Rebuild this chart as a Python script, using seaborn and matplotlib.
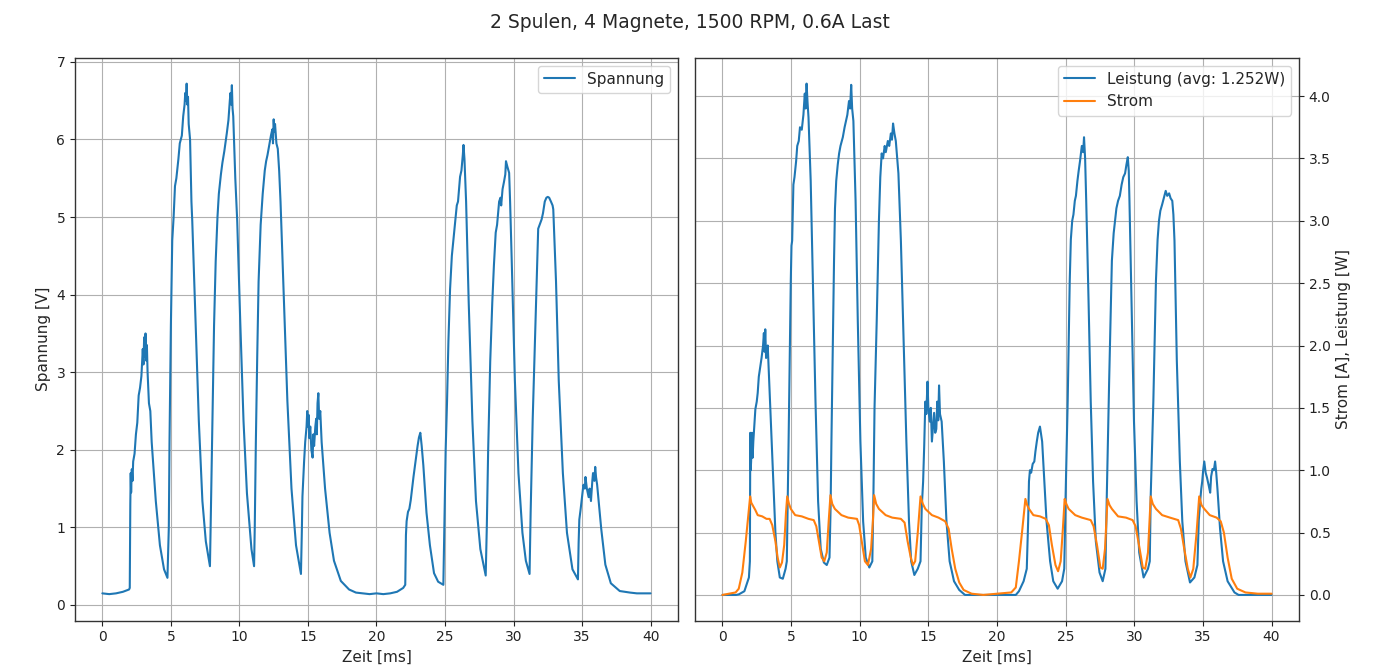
import matplotlib
matplotlib.use("Agg")
import matplotlib.pyplot as plt
import seaborn as sns

# ---------------- data ----------------
spannung_t = [0, 0.5, 1.0, 1.5, 1.95, 2.0, 2.04, 2.07, 2.1, 2.15, 2.2, 2.25, 2.35, 2.45, 2.55, 2.65, 2.75,
              2.85, 2.95, 3.0, 3.05, 3.1, 3.15, 3.2, 3.25, 3.3, 3.4, 3.5, 3.6, 3.7, 3.9, 4.2, 4.5, 4.75,
              4.85, 4.9, 5.0, 5.1, 5.2, 5.3, 5.4, 5.55, 5.65, 5.8, 5.9, 6.0, 6.05, 6.1, 6.15, 6.2, 6.25, 6.3,
              6.4, 6.5, 6.56, 6.8, 7.04, 7.3, 7.55, 7.85,
              7.9, 8.05, 8.15, 8.27, 8.4, 8.5, 8.65, 8.76, 8.9, 9.08, 9.2, 9.3, 9.35, 9.4, 9.45, 9.5, 9.55,
              9.6, 9.7, 9.84, 10.06, 10.3, 10.55, 10.88, 11.07,
              11.12, 11.2, 11.3, 11.4, 11.55, 11.7, 11.85, 11.95, 12.05, 12.2, 12.3, 12.4, 12.45, 12.5, 12.55,
              12.6, 12.7, 12.8, 12.9, 13.0, 13.25, 13.5, 13.8, 14.13, 14.49,
              14.55, 14.6, 14.65, 14.72, 14.8, 14.9, 14.95, 15.0, 15.05, 15.1, 15.17, 15.25, 15.34, 15.4, 15.45,
              15.54, 15.6, 15.65, 15.7, 15.76, 15.82, 15.9, 16.0, 16.25, 16.58, 16.9, 17.4, 18.0, 18.5, 19.0,
              19.5, 20.0, 20.5, 21.0, 21.5, 21.95, 22.1,
              22.15, 22.2, 22.3, 22.4, 22.5, 22.6, 22.7, 22.86, 23.0, 23.1, 23.2, 23.3, 23.42, 23.55, 23.65,
              23.9, 24.2, 24.5, 24.88,
              24.95, 25.05, 25.15, 25.25, 25.37, 25.5, 25.63, 25.75, 25.86, 25.95, 26.1, 26.2, 26.3, 26.35,
              26.42, 26.5, 26.54, 26.73, 27.0, 27.26, 27.58, 27.97,
              28.05, 28.15, 28.3, 28.45, 28.57, 28.7, 28.8, 28.95, 29.05, 29.1, 29.2, 29.3, 29.4, 29.45, 29.55,
              29.68, 29.75, 29.87, 30.1, 30.36, 30.65, 30.9, 31.17,
              31.25, 31.4, 31.56, 31.7, 31.8, 31.95, 32.05, 32.15, 32.28, 32.4, 32.5, 32.6, 32.73, 32.85, 32.9,
              33.1, 33.3, 33.6, 33.9, 34.3, 34.7,
              34.75, 34.8, 34.9, 35.0, 35.1, 35.2, 35.25, 35.35, 35.48, 35.55, 35.65, 35.75, 35.8, 35.9, 35.96,
              36.02, 36.1, 36.4, 36.7, 37.1, 37.75, 38.5, 39.0, 39.5, 40.0]
spannung_v = [0.15, 0.14, 0.15, 0.17, 0.2, 0.22, 1.3, 1.7, 1.45, 1.75, 1.6, 1.85, 1.95, 2.2, 2.35, 2.7, 2.8,
              2.95, 3.3, 3.1, 3.45, 3.2, 3.5, 3.15, 3.35, 3.0, 2.6, 2.5, 2.1, 1.85, 1.34, 0.77, 0.46, 0.35,
              1.0, 2.1, 3.6, 4.7, 5.0, 5.4, 5.5, 5.75, 5.95, 6.05, 6.3, 6.45, 6.6, 6.5, 6.72, 6.45, 6.55, 6.2,
              6.0, 5.2, 4.95, 3.66, 2.37, 1.34, 0.82, 0.5,
              1.0, 2.6, 3.6, 4.43, 5.0, 5.3, 5.55, 5.7, 5.85, 6.08, 6.25, 6.5, 6.6, 6.45, 6.7, 6.4, 6.3,
              6.03, 5.5, 4.95, 3.66, 2.37, 1.44, 0.72, 0.5,
              1.0, 2.1, 3.2, 4.17, 4.9, 5.3, 5.6, 5.72, 5.8, 5.95, 6.05, 6.13, 5.95, 6.26, 6.1,
              6.2, 5.95, 5.88, 5.6, 5.2, 3.9, 2.63, 1.5, 0.77, 0.4,
              0.9, 1.4, 1.6, 1.85, 2.1, 2.3, 2.5, 2.3, 2.45, 2.15, 2.3, 2.0, 1.9, 2.2, 2.05,
              2.3, 2.4, 2.2, 2.6, 2.73, 2.4, 2.5, 2.1, 1.5, 0.93, 0.57, 0.31, 0.2, 0.16, 0.15,
              0.14, 0.15, 0.14, 0.15, 0.17, 0.22, 0.26,
              0.9, 1.08, 1.2, 1.24, 1.35, 1.5, 1.65, 1.86, 2.05, 2.16, 2.22, 2.05, 1.8, 1.45, 1.19,
              0.77, 0.41, 0.3, 0.26,
              1.0, 2.0, 2.63, 3.4, 4.07, 4.5, 4.74, 4.95, 5.15, 5.2, 5.52, 5.6, 5.8, 5.93,
              5.75, 5.4, 5.2, 3.9, 2.37, 1.34, 0.72, 0.38,
              1.0, 2.0, 3.14, 3.9, 4.38, 4.8, 4.9, 5.2, 5.25, 5.15, 5.36, 5.45, 5.55, 5.72, 5.65,
              5.57, 5.2, 4.43, 2.89, 1.7, 0.93, 0.57, 0.4,
              1.2, 2.4, 3.4, 4.3, 4.85, 4.92, 4.97, 5.05, 5.2, 5.25, 5.26, 5.25, 5.2, 5.15, 5.1,
              4.17, 2.89, 1.7, 0.93, 0.46, 0.33,
              0.8, 1.1, 1.24, 1.4, 1.55, 1.5, 1.65, 1.5, 1.39, 1.5, 1.34, 1.6, 1.7, 1.6, 1.78,
              1.65, 1.55, 0.98, 0.52, 0.28, 0.18, 0.16, 0.15, 0.15, 0.15]

leistung_t = [0, 0.5, 1.0, 1.2, 1.6, 1.93, 2.0, 2.03, 2.06, 2.09, 2.15, 2.2, 2.25, 2.35, 2.4, 2.5, 2.57, 2.65,
              2.73, 2.85, 2.96, 3.02, 3.07, 3.12, 3.18, 3.25, 3.3, 3.37, 3.45, 3.53, 3.7, 3.86, 4.0, 4.18,
              4.4, 4.6, 4.69,
              4.75, 4.82, 4.98, 5.03, 5.08, 5.17, 5.25, 5.37, 5.45, 5.56, 5.65, 5.78, 5.9, 6.0, 6.06, 6.13,
              6.2, 6.27, 6.43, 6.59, 6.78, 6.97, 7.16, 7.39, 7.6, 7.8,
              7.88, 7.94, 8.05, 8.13, 8.2, 8.29, 8.4, 8.5, 8.6, 8.77, 8.9, 9.0, 9.1, 9.22, 9.3, 9.38, 9.45,
              9.54, 9.7, 9.86, 10.05, 10.25, 10.44, 10.7, 10.92,
              11.0, 11.08, 11.24, 11.4, 11.5, 11.6, 11.7, 11.82, 11.9, 12.05, 12.15, 12.27, 12.35, 12.43,
              12.53, 12.63, 12.82, 13.0, 13.2, 13.4, 13.59, 13.75, 13.98, 14.23, 14.43,
              14.52, 14.62, 14.7, 14.78, 14.85, 14.94, 15.0, 15.1, 15.18, 15.26, 15.34, 15.42, 15.5, 15.58,
              15.65, 15.72, 15.78, 15.85, 15.97, 16.13, 16.32, 16.55, 16.87, 17.25, 17.67, 18.5, 19.5,
              20.5, 21.37, 21.6, 21.94, 22.17,
              22.27, 22.33, 22.4, 22.49, 22.6, 22.72, 22.8, 22.9, 23.0, 23.13, 23.2, 23.29, 23.45, 23.61,
              23.87, 24.1, 24.42, 24.74, 24.9,
              25.0, 25.15, 25.3, 25.38, 25.48, 25.57, 25.67, 25.75, 25.86, 25.95, 26.05, 26.18, 26.28,
              26.34, 26.42, 26.5, 26.67, 26.83, 27.0, 27.2, 27.47, 27.7, 27.9,
              28.0, 28.17, 28.37, 28.5, 28.6, 28.7, 28.82, 28.95, 29.08, 29.2, 29.33, 29.43, 29.53, 29.6,
              29.65, 29.8, 29.98, 30.17, 30.36, 30.68, 31.0, 31.13,
              31.2, 31.39, 31.58, 31.7, 31.8, 31.9, 32.03, 32.15, 32.29, 32.4, 32.54, 32.65, 32.77, 32.85,
              32.93, 33.1, 33.32, 33.5, 33.73, 34.06, 34.38, 34.6,
              34.7, 34.8, 34.88, 34.95, 35.02, 35.1, 35.2, 35.3, 35.42, 35.53, 35.6, 35.7, 35.8, 35.89,
              35.97, 36.06, 36.25, 36.47, 36.8, 37.3, 37.6, 38.5, 39.5, 40.0]
leistung_w = [0, 0, 0, 0.005, 0.03, 0.14, 0.27, 1.3, 1.0, 1.07, 1.3, 1.1, 1.23, 1.4, 1.49, 1.55, 1.62, 1.75,
              1.81, 1.9, 2.0, 2.1, 1.95, 2.13, 1.9, 1.94, 2.0, 1.81, 1.6, 1.39, 0.91, 0.5, 0.27, 0.14,
              0.13, 0.21, 0.27,
              0.7, 1.23, 2.52, 2.8, 2.84, 3.29, 3.35, 3.48, 3.6, 3.64, 3.75, 3.73, 3.85, 4.02, 3.9, 4.1,
              3.95, 3.83, 3.32, 2.52, 1.55, 0.75, 0.37, 0.26, 0.24, 0.3,
              0.7, 1.23, 2.1, 2.68, 3.1, 3.32, 3.45, 3.54, 3.6, 3.67, 3.75, 3.8, 3.85, 3.96, 3.9, 4.09, 3.9,
              3.8, 3.16, 2.2, 1.23, 0.59, 0.3, 0.22, 0.27,
              0.8, 1.5, 2.2, 3.0, 3.35, 3.54, 3.5, 3.6, 3.55, 3.64, 3.6, 3.7, 3.65, 3.78,
              3.7, 3.64, 3.38, 2.84, 2.04, 1.23, 0.59, 0.27, 0.16, 0.21, 0.27,
              0.7, 0.91, 1.2, 1.55, 1.45, 1.71, 1.5, 1.39, 1.5, 1.23, 1.35, 1.46, 1.3, 1.33,
              1.55, 1.4, 1.68, 1.45, 1.39, 1.07, 0.59, 0.27, 0.11, 0.04, 0.0, 0, 0,
              0, 0.0, 0.03, 0.11, 0.21,
              0.59, 0.91, 1.0, 0.98, 1.05, 1.07, 1.15, 1.23, 1.3, 1.35, 1.3, 1.23, 0.91, 0.59,
              0.27, 0.11, 0.05, 0.11, 0.21,
              0.8, 1.55, 2.52, 2.85, 3.0, 3.05, 3.16, 3.2, 3.32, 3.4, 3.48, 3.6, 3.55,
              3.67, 3.5, 3.16, 2.36, 1.55, 0.91, 0.43, 0.18, 0.11, 0.21,
              0.8, 1.71, 2.68, 2.9, 3.0, 3.1, 3.16, 3.2, 3.29, 3.35, 3.38, 3.45, 3.51, 3.4,
              3.16, 2.36, 1.39, 0.75, 0.34, 0.14, 0.21, 0.27,
              0.8, 1.55, 2.52, 2.85, 3.0, 3.08, 3.13, 3.18, 3.24, 3.2, 3.22, 3.18, 3.16, 3.05,
              2.84, 1.88, 1.07, 0.59, 0.27, 0.1, 0.14, 0.24,
              0.6, 0.75, 0.85, 0.91, 1.0, 1.07, 0.98, 0.94, 0.88, 0.82, 0.95, 1.01, 1.0, 1.07,
              0.98, 0.85, 0.53, 0.27, 0.11, 0.02, 0.0, 0, 0, 0]

strom_t = [0, 0.5, 0.96, 1.19, 1.45, 1.7, 1.9, 2.02, 2.1, 2.25, 2.4, 2.57, 2.9, 3.21, 3.44, 3.63, 3.86, 4.02,
           4.18, 4.34, 4.5, 4.63, 4.72, 4.85, 4.98, 5.3, 5.78, 6.27, 6.65, 6.84, 7.07, 7.23, 7.42, 7.6, 7.74,
           7.87, 8.0, 8.19, 8.67, 9.16, 9.8, 9.96, 10.19, 10.38, 10.6, 10.83, 10.96, 11.05, 11.2, 11.4,
           11.89, 12.37, 13.0, 13.27, 13.49, 13.72, 13.88, 14.04, 14.23, 14.43, 14.6, 14.78, 15.26, 15.74,
           16.23, 16.48, 16.7, 16.96, 17.25, 17.57, 18.15, 19.0, 20.0, 21.04, 21.37, 21.6, 21.85, 22.07,
           22.2, 22.33, 22.65, 23.13, 23.55, 23.78, 24.0, 24.26, 24.45, 24.64, 24.8, 24.93, 25.05, 25.22,
           25.7, 26.18, 26.83, 27.04, 27.3, 27.53, 27.7, 27.87, 28.05, 28.2, 28.37, 28.82, 29.4, 29.88,
           30.1, 30.36, 30.62, 30.8, 31.0, 31.2, 31.35, 31.58, 32.03, 32.6, 33.2, 33.4, 33.64, 33.9, 34.09,
           34.3, 34.54, 34.73, 34.9, 35.1, 35.5, 36.0, 36.3, 36.53, 36.8, 37.1, 37.5, 38.1, 39.0, 40.0]
strom_a = [0, 0.01, 0.02, 0.05, 0.18, 0.43, 0.66, 0.79, 0.74, 0.71, 0.68, 0.64, 0.63, 0.61, 0.61, 0.56, 0.43,
           0.3, 0.22, 0.26, 0.4, 0.66, 0.79, 0.73, 0.69, 0.64, 0.63, 0.61, 0.6, 0.55, 0.4, 0.3, 0.27, 0.34,
           0.59, 0.8, 0.73, 0.69, 0.64, 0.62, 0.61, 0.56, 0.4, 0.27, 0.24, 0.37, 0.59, 0.8, 0.73, 0.69,
           0.64, 0.62, 0.61, 0.58, 0.43, 0.3, 0.24, 0.27, 0.5, 0.79, 0.73, 0.69, 0.64, 0.62,
           0.59, 0.53, 0.37, 0.21, 0.1, 0.04, 0.01, 0.0, 0.01, 0.02, 0.06, 0.27, 0.53, 0.77,
           0.72, 0.69, 0.64, 0.63, 0.61, 0.56, 0.4, 0.24, 0.19, 0.27, 0.53, 0.77, 0.73, 0.69,
           0.64, 0.62, 0.6, 0.55, 0.39, 0.22, 0.21, 0.37, 0.77, 0.72, 0.69, 0.63, 0.62, 0.6,
           0.55, 0.39, 0.22, 0.21, 0.34, 0.79, 0.73, 0.69, 0.64, 0.62, 0.6, 0.53, 0.37, 0.21, 0.14,
           0.21, 0.5, 0.79, 0.72, 0.69, 0.64, 0.62, 0.59, 0.5, 0.3, 0.13, 0.05, 0.02, 0.01, 0.01]

title = "2 Spulen, 4 Magnete, 1500 RPM, 0.6A Last"
avg_leistung = 1.252
x_ticks = [0, 5, 10, 15, 20, 25, 30, 35, 40]

# ---------------- plotting ----------------
sns.set_style("ticks")
plt.rcParams["font.family"] = ["DejaVu Sans"]
plt.rcParams["axes.edgecolor"] = "black"
plt.rcParams["xtick.color"] = "#222222"
plt.rcParams["ytick.color"] = "#222222"

blue = "#1f77b4"
orange = "#ff7f0e"

fig = plt.figure(figsize=(13.8, 6.67), dpi=100)
ax1 = fig.add_axes([0.0543, 0.0697, 0.4370, 0.8433])
ax2 = fig.add_axes([0.5036, 0.0697, 0.4377, 0.8433])

sns.lineplot(x=spannung_t, y=spannung_v, ax=ax1, color=blue, linewidth=1.5,
             sort=False, estimator=None, label="Spannung")

sns.lineplot(x=leistung_t, y=leistung_w, ax=ax2, color=blue, linewidth=1.5,
             sort=False, estimator=None, label=f"Leistung (avg: {avg_leistung:.3f}W)")
sns.lineplot(x=strom_t, y=strom_a, ax=ax2, color=orange, linewidth=1.5,
             sort=False, estimator=None, label="Strom")

for ax in (ax1, ax2):
    ax.set_xticks(x_ticks)
    ax.set_xlim(-2, 42)
    ax.grid(True, color="#b0b0b0", linewidth=0.8)
    ax.set_axisbelow(True)
    ax.set_xlabel("Zeit [ms]", fontsize=11)
    ax.tick_params(labelsize=10, direction="out", length=3.5)
    for s in ax.spines.values():
        s.set_linewidth(1.0)
        s.set_color("#333333")
    ax.legend(loc="upper right", fontsize=11, framealpha=0.8, fancybox=True)

ax1.set_ylim(-0.2, 7.05)
ax1.set_ylabel("Spannung [V]", fontsize=11)

ax2.set_ylim(-0.205, 4.305)
ax2.set_yticks([0.0, 0.5, 1.0, 1.5, 2.0, 2.5, 3.0, 3.5, 4.0])
ax2.yaxis.tick_right()
ax2.yaxis.set_label_position("right")
ax2.set_ylabel("Strom [A], Leistung [W]", fontsize=11)

fig.suptitle(title, fontsize=13.5, y=0.967, va="center")

fig.savefig("out.png", dpi=100)
